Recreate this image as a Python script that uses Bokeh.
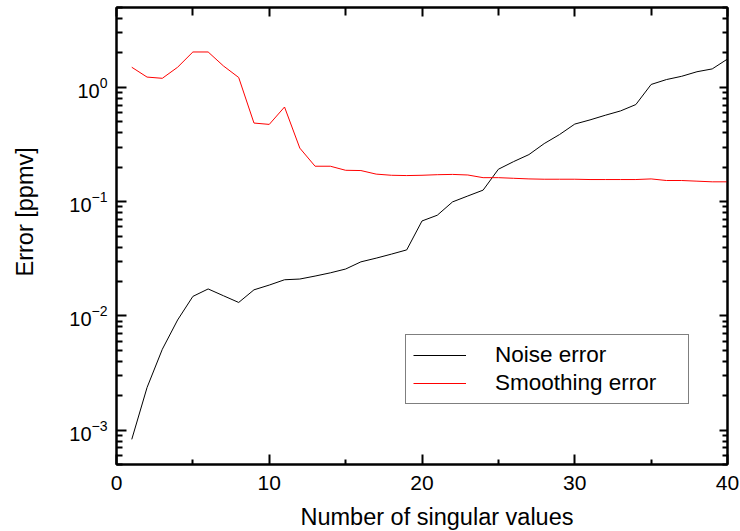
import math
from bokeh.plotting import figure
from bokeh.models import (Range1d, FixedTicker, LinearAxis, LogAxis, LogTickFormatter,
                          CustomJSTickFormatter, Legend, LegendItem, Title, ColumnDataSource)
from bokeh.embed import file_html
from bokeh.resources import INLINE

# ---- data ----
n_singular = list(range(1, 41))
noise_error = [8.3e-4, 2.36e-3, 5.1e-3, 9.2e-3, 0.0148, 0.0172, 0.0150, 0.0131, 0.0169, 0.0186,
               0.0207, 0.0210, 0.0223, 0.0238, 0.0257, 0.0297, 0.0320, 0.0347, 0.0378, 0.0677,
               0.0760, 0.0994, 0.112, 0.126, 0.192, 0.224, 0.258, 0.322, 0.386, 0.477,
               0.519, 0.570, 0.622, 0.707, 1.06, 1.17, 1.25, 1.37, 1.45, 1.77]
smoothing_error = [1.50, 1.23, 1.20, 1.50, 2.04, 2.04, 1.54, 1.22, 0.487, 0.474,
                   0.673, 0.294, 0.204, 0.204, 0.188, 0.187, 0.174, 0.170, 0.169, 0.170,
                   0.172, 0.173, 0.171, 0.162, 0.162, 0.160, 0.158, 0.157, 0.157, 0.157,
                   0.156, 0.156, 0.156, 0.156, 0.158, 0.153, 0.153, 0.151, 0.149, 0.149]
series_labels = ["Noise error", "Smoothing error"]
x_title = "Number of singular values"
y_title = "Error [ppmv]"

x_major_ticks = [0, 10, 20, 30, 40]
x_minor_ticks = [5, 15, 25, 35]
y_major_ticks = [1e-3, 1e-2, 1e-1, 1e0]
y_minor_ticks = [m * 10.0 ** e for e in range(-4, 1) for m in range(2, 10)
                 if 5e-4 <= m * 10.0 ** e <= 5]

FONT = "Liberation Sans"

p = figure(frame_width=611, frame_height=457, y_axis_type="log", output_backend="svg",
           toolbar_location=None, x_range=Range1d(0, 40), y_range=Range1d(5e-4, 5),
           min_border_left=116, min_border_right=13, min_border_top=7, min_border_bottom=67)
p.grid.visible = False
p.outline_line_color = "black"
p.outline_line_width = 2
p.background_fill_color = "white"
p.border_fill_color = "white"

src = ColumnDataSource(dict(x=n_singular, noise=noise_error, smooth=smoothing_error))
r_noise = p.line("x", "noise", source=src, line_color="black", line_width=1)
r_smooth = p.line("x", "smooth", source=src, line_color="red", line_width=1)

# bottom axis
xa = p.xaxis[0]
xa.ticker = FixedTicker(ticks=x_major_ticks, minor_ticks=x_minor_ticks)
xa.major_tick_in = 10
xa.major_tick_out = 0
xa.minor_tick_in = 5
xa.minor_tick_out = 0
xa.major_tick_line_width = 2
xa.minor_tick_line_width = 2
xa.axis_line_width = 2
xa.major_label_standoff = 11
xa.major_label_text_font = FONT
xa.major_label_text_font_size = "21px"
xa.major_label_text_color = "black"

# left axis
ya = p.yaxis[0]
ya.ticker = FixedTicker(ticks=y_major_ticks, minor_ticks=y_minor_ticks)
ya.formatter = LogTickFormatter()
ya.major_tick_in = 10
ya.major_tick_out = 0
ya.minor_tick_in = 6
ya.minor_tick_out = 0
ya.major_tick_line_width = 2
ya.minor_tick_line_width = 2
ya.axis_line_width = 2
ya.major_label_standoff = 9
ya.major_label_text_font = FONT
ya.major_label_text_font_size = "20px"
ya.major_label_text_color = "black"

blank = CustomJSTickFormatter(code="return ''")

top = LinearAxis(ticker=FixedTicker(ticks=x_major_ticks, minor_ticks=x_minor_ticks),
                 formatter=blank, major_tick_in=9, major_tick_out=0, minor_tick_in=8,
                 minor_tick_out=0, major_tick_line_width=2, minor_tick_line_width=2,
                 axis_line_width=2, major_label_standoff=0, major_label_text_font_size="0px")
p.add_layout(top, "above")
right = LogAxis(ticker=FixedTicker(ticks=y_major_ticks, minor_ticks=y_minor_ticks),
                formatter=blank, major_tick_in=8, major_tick_out=0, minor_tick_in=5,
                minor_tick_out=0, major_tick_line_width=2, minor_tick_line_width=2,
                axis_line_width=2, major_label_standoff=0, major_label_text_font_size="0px")
p.add_layout(right, "right")

# invisible spacers between tick labels and axis titles
def spacer(axis_cls, tick, size):
    return axis_cls(ticker=FixedTicker(ticks=[tick], minor_ticks=[]), formatter=blank,
                    axis_line_color=None, major_tick_line_color="white", major_tick_in=0,
                    major_tick_out=size, minor_tick_in=0, minor_tick_out=0,
                    major_label_standoff=0, major_label_text_font_size="0px")

p.add_layout(spacer(LinearAxis, 40, 11), "below")
p.add_layout(spacer(LogAxis, 5e-4, 24), "left")

# axis titles
p.add_layout(Title(text=x_title, align="left", offset=184, vertical_align="top", standoff=0,
                   text_font=FONT, text_font_size="23.5px", text_font_style="normal",
                   text_color="black"), "below")
p.add_layout(Title(text=y_title, align="left", offset=188, vertical_align="bottom", standoff=10,
                   text_font=FONT, text_font_size="23.5px", text_font_style="normal",
                   text_color="black"), "left")

legend = Legend(items=[LegendItem(label=series_labels[0], renderers=[r_noise]),
                       LegendItem(label=series_labels[1], renderers=[r_smooth])],
                location=(289, 60), padding=7, spacing=2, margin=0,
                glyph_width=53, glyph_height=24, label_height=24, label_width=186,
                label_standoff=29, label_text_font=FONT, label_text_font_size="22.5px",
                label_text_color="black",
                border_line_color="black", border_line_width=1,
                background_fill_color="white", background_fill_alpha=1)
p.add_layout(legend)

open("out.html", "w").write(file_html(p, INLINE))
